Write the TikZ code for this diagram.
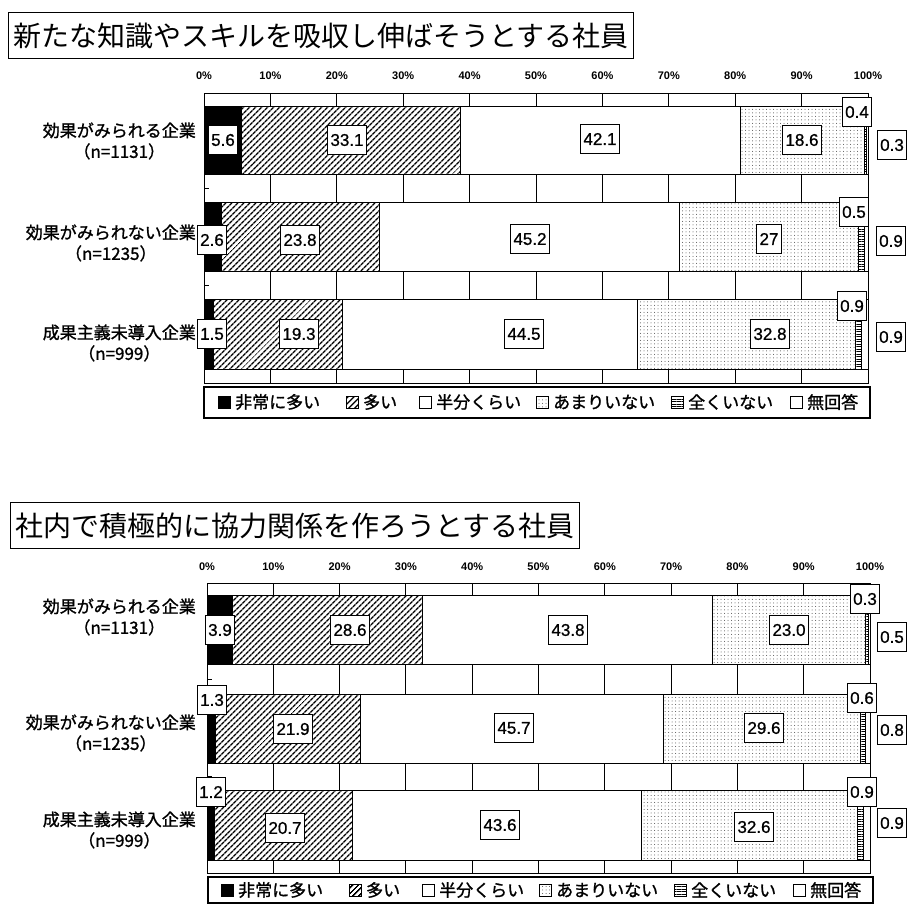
\documentclass[tikz,border=0pt]{standalone}
\usepackage{fontspec}
\setmainfont{Liberation Sans}
\newfontfamily\jp{Noto Sans CJK JP}
\newfontfamily\jpm[FakeBold=1.2]{Noto Sans CJK JP}
\newfontfamily\numf[FakeBold=0.8]{Liberation Sans}
\usetikzlibrary{patterns,patterns.meta}

\tikzset{
 seg/.style={draw=black, line width=1pt},
 gridln/.style={draw=black, line width=1pt},
 numbox/.style={draw=black, fill=white, line width=1.2pt, inner xsep=3pt, inner ysep=0pt, minimum height=29pt, font=\numf\fontsize{17}{17}\selectfont},
 ticklab/.style={font=\bfseries\fontsize{11}{11}\selectfont, inner sep=0pt},
 catlab/.style={align=center, anchor=east, inner sep=0pt, font=\jpm\fontsize{17}{21}\selectfont},
 titlebox/.style={draw=black, line width=1.3pt, anchor=north west, inner xsep=5pt, inner ysep=0pt, minimum height=46pt, font=\jp\fontsize{28}{28}\selectfont},
 legbox/.style={draw=black, line width=1.3pt},
 legsym/.style={draw=black, line width=1pt, minimum size=12pt, inner sep=0pt},
 legtxt/.style={anchor=west, inner sep=0pt, font=\jpm\fontsize{17}{17}\selectfont},
 hatchfill/.style={preaction={fill=white}, pattern={Lines[angle=45,distance=4pt,line width=1.6pt]}},
 dotfill/.style={preaction={fill=white}, pattern={Dots[distance=3.5pt,radius=0.5pt]}, pattern color=black!70},
 stripefill/.style={preaction={fill=white}, pattern={Lines[angle=0,distance=2.5pt,line width=0.9pt]}},
}

% x0, width, ytop, ybot, v1..v5
\newcommand{\chartrow}[9]{%
 \pgfmathsetmacro\cxa{#1+#2/100*#5}%
 \pgfmathsetmacro\cxb{\cxa+#2/100*#6}%
 \pgfmathsetmacro\cxc{\cxb+#2/100*#7}%
 \pgfmathsetmacro\cxd{\cxc+#2/100*#8}%
 \pgfmathsetmacro\cxe{\cxd+#2/100*#9}%
 \pgfmathsetmacro\cxf{#1+#2}%
 \draw[seg,fill=black] (#1,#3) rectangle (\cxa,#4);
 \draw[seg,hatchfill] (\cxa,#3) rectangle (\cxb,#4);
 \draw[seg,fill=white] (\cxb,#3) rectangle (\cxc,#4);
 \draw[seg,dotfill] (\cxc,#3) rectangle (\cxd,#4);
 \draw[seg,stripefill] (\cxd,#3) rectangle (\cxe,#4);
 \draw[seg,fill=white] (\cxe,#3) rectangle (\cxf,#4);
}
% x0, width, top, bottom
\newcommand{\chartframe}[4]{%
 \foreach \i in {1,...,9} {\draw[gridln] ({#1+#2/10*\i},#3) -- ({#1+#2/10*\i},#4);}
 \draw[gridln] (#1,#3) rectangle ({#1+#2},#4);
}

\begin{document}
\begin{tikzpicture}[x=1pt,y=-1pt]
\useasboundingbox[fill=white] (0,0) rectangle (908,904);

%================ Chart 1 ================
\node[titlebox] (t1) at (8,12) {新たな知識やスキルを吸収し伸ばそうとする社員};
\foreach \i in {0,...,10} {
 \pgfmathtruncatemacro\pct{\i*10}
 \node[ticklab] (ax1-\i) at ({204+66.4*\i},76) {\pct\%};
}
\chartframe{204}{664}{94}{383}
\chartrow{204}{664}{107}{175}{5.6}{33.1}{42.1}{18.6}{0.3}
\chartrow{204}{664}{203}{272}{2.6}{23.8}{45.2}{27}{0.9}
\chartrow{204}{664}{299}{369}{1.5}{19.3}{44.5}{32.8}{0.9}
\draw[gridln] (204,189) -- (209,189);
\draw[gridln] (204,285.5) -- (209,285.5);

\node[catlab] (c1l1) at (196,141) {効果がみられる企業\\（n=1131）};
\node[catlab] (c1l2) at (196,243) {効果がみられない企業\\（n=1235）};
\node[catlab] (c1l3) at (196,343) {成果主義未導入企業\\（n=999）};

\node[numbox] (c1r1a) at (223,140) {5.6};
\node[numbox] (c1r1b) at (347,140) {33.1};
\node[numbox] (c1r1c) at (600,139) {42.1};
\node[numbox] (c1r1d) at (802,140) {18.6};
\node[numbox] (c1r1e) at (857,112) {0.4};
\node[numbox] (c1r1f) at (892,145) {0.3};

\node[numbox] (c1r2a) at (212,240) {2.6};
\node[numbox] (c1r2b) at (300,240) {23.8};
\node[numbox] (c1r2c) at (530,239) {45.2};
\node[numbox] (c1r2d) at (769,239) {27};
\node[numbox] (c1r2e) at (854,212) {0.5};
\node[numbox] (c1r2f) at (891,241) {0.9};

\node[numbox] (c1r3a) at (212,334) {1.5};
\node[numbox] (c1r3b) at (299,334) {19.3};
\node[numbox] (c1r3c) at (524,334) {44.5};
\node[numbox] (c1r3d) at (770,334) {32.8};
\node[numbox] (c1r3e) at (852,306) {0.9};
\node[numbox] (c1r3f) at (891,337) {0.9};

\draw[legbox] (204,387) rectangle (870,418);
\node[legsym,fill=black] (l1s1) at (224,402) {};
\node[legtxt] (l1t1) at (235,402) {非常に多い};
\node[legsym,hatchfill] (l1s2) at (352,402) {};
\node[legtxt] (l1t2) at (363,402) {多い};
\node[legsym,fill=white] (l1s3) at (425,402) {};
\node[legtxt] (l1t3) at (436,402) {半分くらい};
\node[legsym,dotfill] (l1s4) at (542,402) {};
\node[legtxt] (l1t4) at (553,402) {あまりいない};
\node[legsym,stripefill] (l1s5) at (677,402) {};
\node[legtxt] (l1t5) at (688,402) {全くいない};
\node[legsym,fill=white] (l1s6) at (796,402) {};
\node[legtxt] (l1t6) at (807,402) {無回答};

%================ Chart 2 ================
\node[titlebox] (t2) at (10,502) {社内で積極的に協力関係を作ろうとする社員};
\foreach \i in {0,...,10} {
 \pgfmathtruncatemacro\pct{\i*10}
 \node[ticklab] (ax2-\i) at ({207+66.3*\i},567) {\pct\%};
}
\chartframe{207}{663}{583}{873}
\chartrow{207}{663}{595}{664}{3.9}{28.6}{43.8}{23.0}{0.5}
\chartrow{207}{663}{694}{763}{1.3}{21.9}{45.7}{29.6}{0.8}
\chartrow{207}{663}{790}{860}{1.2}{20.7}{43.6}{32.6}{0.9}
\draw[gridln] (207,679) -- (212,679);
\draw[gridln] (207,776.5) -- (212,776.5);

\node[catlab] (c2l1) at (196,617) {効果がみられる企業\\（n=1131）};
\node[catlab] (c2l2) at (196,733) {効果がみられない企業\\（n=1235）};
\node[catlab] (c2l3) at (196,830) {成果主義未導入企業\\（n=999）};

\node[numbox] (c2r1a) at (220,630) {3.9};
\node[numbox] (c2r1b) at (350,630) {28.6};
\node[numbox] (c2r1c) at (568,630) {43.8};
\node[numbox] (c2r1d) at (789,630) {23.0};
\node[numbox] (c2r1e) at (865,599) {0.3};
\node[numbox] (c2r1f) at (892,637) {0.5};

\node[numbox] (c2r2a) at (212,700) {1.3};
\node[numbox] (c2r2b) at (293,729) {21.9};
\node[numbox] (c2r2c) at (514,728) {45.7};
\node[numbox] (c2r2d) at (764,728) {29.6};
\node[numbox] (c2r2e) at (862,698) {0.6};
\node[numbox] (c2r2f) at (892,730) {0.8};

\node[numbox] (c2r3a) at (211,792) {1.2};
\node[numbox] (c2r3b) at (285,828) {20.7};
\node[numbox] (c2r3c) at (500,825) {43.6};
\node[numbox] (c2r3d) at (754,827) {32.6};
\node[numbox] (c2r3e) at (862,792) {0.9};
\node[numbox] (c2r3f) at (892,823) {0.9};

\draw[legbox] (208,877) rectangle (873,903);
\node[legsym,fill=black] (l2s1) at (227,890) {};
\node[legtxt] (l2t1) at (238,890) {非常に多い};
\node[legsym,hatchfill] (l2s2) at (355,890) {};
\node[legtxt] (l2t2) at (366,890) {多い};
\node[legsym,fill=white] (l2s3) at (428,890) {};
\node[legtxt] (l2t3) at (439,890) {半分くらい};
\node[legsym,dotfill] (l2s4) at (545,890) {};
\node[legtxt] (l2t4) at (556,890) {あまりいない};
\node[legsym,stripefill] (l2s5) at (680,890) {};
\node[legtxt] (l2t5) at (691,890) {全くいない};
\node[legsym,fill=white] (l2s6) at (799,890) {};
\node[legtxt] (l2t6) at (810,890) {無回答};
\end{tikzpicture}
\end{document}
